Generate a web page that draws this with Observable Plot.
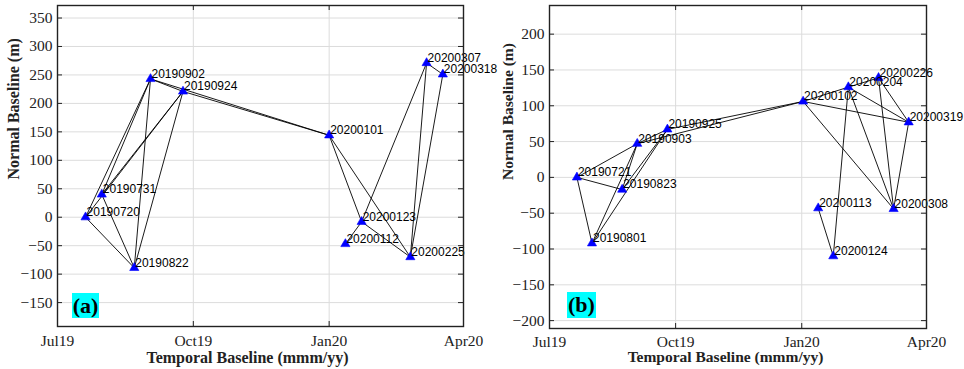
<!DOCTYPE html>
<html><head><meta charset="utf-8">
<script src="https://cdn.jsdelivr.net/npm/d3@7"></script>
<script src="https://cdn.jsdelivr.net/npm/@observablehq/plot@0.6"></script>
<style>
body{margin:0;background:#fff;}
#wrap{position:relative;width:964px;height:369px;display:flex;overflow:hidden;}
#wrap svg{flex:none;}
.tag{position:absolute;background:#00ffff;font-family:"Liberation Serif","Times New Roman",serif;font-weight:bold;font-size:22px;line-height:25px;text-align:center;color:#000;}
</style></head><body>
<div id="wrap"></div>
<script>
// ---- Panel (a) data ----
const datesA = ["20190720","20190731","20190822","20190902","20190924","20200101","20200112","20200123","20200225","20200307","20200318"];
const baselineA = [0, 40, -89, 243, 221, 144, -47, -8, -70, 271, 251];
const edgesA = [
  ["20190720","20190822"],["20190720","20190902"],["20190720","20190924"],
  ["20190731","20190822"],["20190731","20190902"],["20190731","20190924"],
  ["20190822","20190902"],["20190822","20190924"],["20190902","20190924"],
  ["20190902","20200101"],["20190924","20200101"],
  ["20200101","20200123"],["20200101","20200225"],["20200112","20200123"],
  ["20200123","20200307"],["20200123","20200225"],
  ["20200225","20200307"],["20200225","20200318"],["20200307","20200318"]
];
const yTicksA = [-150,-100,-50,0,50,100,150,200,250,300,350];

// ---- Panel (b) data ----
const datesB = ["20190721","20190801","20190823","20190903","20190925","20200102","20200113","20200124","20200204","20200226","20200308","20200319"];
const baselineB = [0, -92, -17, 47, 67, 106, -43, -110, 126, 139, -44, 77];
const edgesB = [
  ["20190721","20190801"],["20190721","20190823"],["20190721","20190903"],
  ["20190801","20190903"],["20190801","20190925"],
  ["20190823","20190903"],["20190823","20190925"],["20190903","20190925"],
  ["20190903","20200102"],["20190925","20200102"],
  ["20200102","20200204"],["20200102","20200319"],["20200102","20200308"],
  ["20200113","20200124"],["20200124","20200204"],
  ["20200204","20200226"],["20200204","20200308"],["20200204","20200319"],
  ["20200226","20200308"],["20200226","20200319"],["20200308","20200319"]
];
const yTicksB = [-200,-150,-100,-50,0,50,100,150,200];

// ---- shared axis ----
const xTickStrings = ["20190701","20191001","20200101","20200401"];
const xTickLabels = ["Jul19","Oct19","Jan20","Apr20"];
const xLabel = "Temporal Baseline (mmm/yy)";
const yLabel = "Normal Baseline (m)";

const parse = d3.utcParse("%Y%m%d");
const xTickDates = xTickStrings.map(parse);

function panel(cfg) {
  const pts = cfg.dates.map((d, i) => ({label: d, date: parse(d), b: cfg.values[i]}));
  const byLabel = new Map(pts.map(p => [p.label, p]));
  const links = cfg.edges.map(([a, b]) => ({s: byLabel.get(a), t: byLabel.get(b)}));
  const innerW = cfg.width - cfg.ml - cfg.mr;
  const innerH = cfg.height - cfg.mt - cfg.mb;
  const serif = "Liberation Serif, Times New Roman, serif";
  const tickColor = "#222";
  return Plot.plot({
    width: cfg.width, height: cfg.height,
    marginLeft: cfg.ml, marginRight: cfg.mr, marginTop: cfg.mt, marginBottom: cfg.mb,
    style: {fontFamily: serif, fontSize: "15.5px", background: cfg.bg, overflow: "visible", color: "#222"},
    x: {type: "utc", domain: [xTickDates[0], xTickDates[3]]},
    y: {domain: cfg.ydomain},
    marks: [
      Plot.ruleY(cfg.yTicks, {y: d => d, stroke: "#dcdcdc", strokeWidth: 1}),
      Plot.ruleX(xTickDates, {x: d => d, stroke: "#dcdcdc", strokeWidth: 1}),
      Plot.link(links, {x1: d => d.s.date, y1: d => d.s.b, x2: d => d.t.date, y2: d => d.t.b, stroke: "#000", strokeWidth: 0.9}),
      Plot.dot(pts, {x: "date", y: "b", symbol: "triangle", r: 3.4, fill: "#0000ff", stroke: "#0000ff", strokeWidth: 0.6}),
      Plot.text(pts, {x: "date", y: "b", text: "label", textAnchor: "start", lineAnchor: "middle", dx: 1, dy: -5, fontFamily: "Liberation Sans, Arial, sans-serif", fontSize: 12, fill: "#000"}),
      Plot.tickY(cfg.yTicks, {y: d => d, insetRight: innerW - 5, stroke: tickColor}),
      Plot.tickY(cfg.yTicks, {y: d => d, insetLeft: innerW - 5, stroke: tickColor}),
      Plot.tickX(xTickDates, {x: d => d, insetTop: innerH - 5, stroke: tickColor}),
      Plot.tickX(xTickDates, {x: d => d, insetBottom: innerH - 5, stroke: tickColor}),
      Plot.frame({stroke: tickColor, strokeWidth: 1.4}),
      Plot.axisY(cfg.yTicks, {anchor: "left", tickSize: 0, tickPadding: 5, label: null, fill: "#222", fontSize: 15.5}),
      Plot.axisX(xTickDates, {anchor: "bottom", tickSize: 0, tickPadding: cfg.xpad, label: null, fill: "#222", fontSize: 15.5,
        tickFormat: d => xTickLabels[xTickDates.findIndex(t => +t === +d)]}),
      Plot.text([xLabel], {frameAnchor: "bottom", text: d => d, dx: cfg.xlDx, dy: cfg.xlDy, lineAnchor: "middle", fontWeight: "bold", fontSize: cfg.lblSize, fill: "#222", fontFamily: serif}),
      Plot.text([yLabel], {frameAnchor: "left", text: d => d, rotate: -90, dx: cfg.ylDx, dy: cfg.ylDy, lineAnchor: "middle", fontWeight: "bold", fontSize: cfg.lblSize, fill: "#222", fontFamily: serif})
    ]
  });
}

const wrap = document.getElementById("wrap");
const svgA = panel({dates: datesA, values: baselineA, edges: edgesA, yTicks: yTicksA, ydomain: [-192, 372],
  width: 480, height: 369, ml: 57, mr: 17, mt: 5, mb: 43, xpad: 8, xlDx: -13, xlDy: 31, ylDx: -44, ylDy: 13.5, lblSize: 16, bg: "white"});
const svgB = panel({dates: datesB, values: baselineB, edges: edgesB, yTicks: yTicksB, ydomain: [-211, 240],
  width: 484, height: 369, ml: 69, mr: 38, mt: 5, mb: 41, xpad: 7.5, xlDx: -12.5, xlDy: 29, ylDx: -41.5, ylDy: 13, lblSize: 15.5, bg: "transparent"});
wrap.appendChild(svgA);
wrap.appendChild(svgB);

const tagA = document.createElement("div");
tagA.className = "tag"; tagA.textContent = "(a)";
Object.assign(tagA.style, {left: "72px", top: "293px", width: "27px", height: "25px"});
const tagB = document.createElement("div");
tagB.className = "tag"; tagB.textContent = "(b)";
Object.assign(tagB.style, {left: "567px", top: "292px", width: "29px", height: "26px"});
wrap.appendChild(tagA);
wrap.appendChild(tagB);
</script>
</body></html>
